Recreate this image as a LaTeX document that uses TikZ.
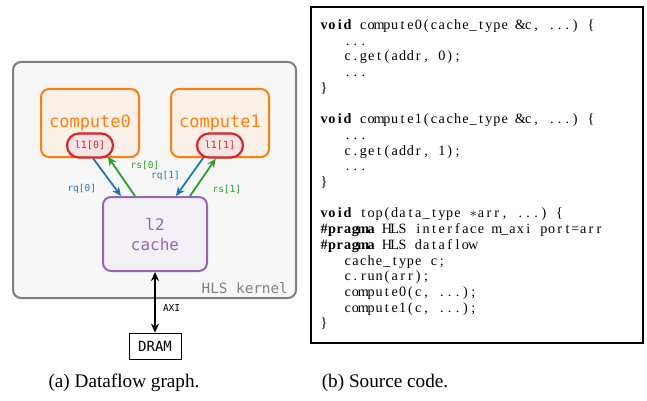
\documentclass[tikz,border=0pt]{standalone}
\usepackage{fontspec}
\usetikzlibrary{positioning,arrows.meta,shapes.misc}
\setmainfont{Liberation Serif}
\newfontfamily\diagfont{DejaVu Sans Mono}

\definecolor{kernelgray}{HTML}{808080}
\definecolor{kernelbg}{HTML}{F7F7F7}
\definecolor{computeorange}{HTML}{FF7F0E}
\definecolor{computebg}{HTML}{FBF1E8}
\definecolor{lonered}{HTML}{D62728}
\definecolor{lonebg}{HTML}{F7E4E4}
\definecolor{ltwopurple}{HTML}{9467BD}
\definecolor{ltwobg}{HTML}{F3F0F6}
\definecolor{rqblue}{HTML}{1F77B4}
\definecolor{rsgreen}{HTML}{2CA02C}

% fixed columns for the listing: one box per character, ~ for a space
\newcommand{\colw}{7.85pt}
\newcommand{\astchar}{\ensuremath{\ast}}
\def\fixloop#1{\ifx#1\relax\else\makebox[\colw]{#1}\expandafter\fixloop\fi}
\newcommand{\codeline}[2]{{\bfseries\fixloop#1\relax}\fixloop#2\relax}

\tikzset{
  kernelbox/.style={draw=kernelgray, fill=kernelbg, line width=2pt, rounded corners=8pt,
    minimum width=283pt, minimum height=236pt},
  computebox/.style={draw=computeorange, fill=computebg, line width=2pt, rounded corners=8pt,
    minimum width=98pt, minimum height=68pt, text=computeorange,
    font=\diagfont\fontsize{17}{20}\selectfont},
  lonebox/.style={rounded rectangle, draw=lonered, fill=lonebg, line width=2.2pt,
    minimum width=46pt, minimum height=24pt, inner sep=0pt, text=lonered,
    font=\diagfont\fontsize{10}{11}\selectfont},
  ltwobox/.style={draw=ltwopurple, fill=ltwobg, line width=2pt, rounded corners=8pt,
    minimum width=104pt, minimum height=74pt, text=ltwopurple, align=center,
    font=\diagfont\fontsize{16}{20}\selectfont},
  drambox/.style={draw=black, fill=white, line width=0.8pt, minimum width=52pt,
    minimum height=26pt, inner sep=0pt, font=\diagfont\fontsize{14}{16}\selectfont},
  chanlabel/.style={inner sep=0pt, font=\diagfont\fontsize{9.5}{11}\selectfont},
  rqarrow/.style={draw=rqblue, line width=1.8pt, -{Stealth[length=9pt,width=8pt]}},
  rsarrow/.style={draw=rsgreen, line width=1.8pt, -{Stealth[length=9pt,width=8pt]}},
  codeframe/.style={draw=black, line width=1.8pt, minimum width=332pt, minimum height=336pt},
  caption/.style={inner sep=0pt, font=\fontsize{19.2}{23}\selectfont}
}

\begin{document}
\begin{tikzpicture}[x=1pt, y=-1pt]
  \useasboundingbox (0,0) rectangle (647,401);

  % === DATAFLOW GRAPH ===
  \node[kernelbox] (kernel) at (154.5,180) {};
  \node[anchor=base east, inner sep=0pt, text=kernelgray, font=\diagfont\fontsize{14.3}{16}\selectfont]
    (kernellabel) at ([xshift=-9pt, yshift=6pt]kernel.south east) {HLS kernel};

  \node[computebox] (compute0) at (90,123) {compute0};
  \node[computebox] (compute1) at (220,123) {compute1};
  \node[lonebox] (lone0) at (90,145.5) {l1[0]};
  \node[lonebox] (lone1) at (220,145.5) {l1[1]};

  \node[ltwobox] (cache) at (155,234) {l2\\cache};

  % requests and responses
  \draw[rqarrow] (lone0.-76) -- ([xshift=-34pt]cache.north)
    node[chanlabel, text=rqblue, pos=0.82, left=19pt] (rqzero) {rq[0]};
  \draw[rsarrow] ([xshift=-20pt]cache.north) -- (lone0.-32)
    node[chanlabel, text=rsgreen, pos=0.78, right=16pt] (rszero) {rs[0]};
  \draw[rqarrow] (lone1.-144) -- ([xshift=21pt]cache.north)
    node[chanlabel, text=rqblue, pos=0.47, left=10pt] (rqone) {rq[1]};
  \draw[rsarrow] ([xshift=35pt]cache.north) -- (lone1.-108)
    node[chanlabel, text=rsgreen, pos=0.18, right=17pt] (rsone) {rs[1]};

  % memory
  \node[drambox] (dram) at (155,346) {DRAM};
  \draw[line width=2pt, {Stealth[length=9pt,width=8pt]}-{Stealth[length=9pt,width=8pt]}]
    (cache.south) -- (dram.north)
    node[chanlabel, pos=0.6, right=7pt] (axi) {AXI};

  % === SOURCE CODE ===
  \node[codeframe] (frame) at (477,175) {};
  \node[anchor=north west, inner sep=0pt, align=left,
    font=\fontsize{14.2}{15.7}\selectfont] (code) at (320,19.5) {%
    \codeline{void}{~compute0(cache\_type~\&c,~...)~\{}\\
    \codeline{}{~~~...}\\
    \codeline{}{~~~c.get(addr,~0);}\\
    \codeline{}{~~~...}\\
    \codeline{}{\}}\\[15.7pt]
    \codeline{void}{~compute1(cache\_type~\&c,~...)~\{}\\
    \codeline{}{~~~...}\\
    \codeline{}{~~~c.get(addr,~1);}\\
    \codeline{}{~~~...}\\
    \codeline{}{\}}\\[15.7pt]
    \codeline{void}{~top(data\_type~\astchar arr,~...)~\{}\\
    \codeline{\#pragma}{~HLS~interface~m\_axi~port=arr}\\
    \codeline{\#pragma}{~HLS~dataflow}\\
    \codeline{}{~~~cache\_type~c;}\\
    \codeline{}{~~~c.run(arr);}\\
    \codeline{}{~~~compute0(c,~...);}\\
    \codeline{}{~~~compute1(c,~...);}\\
    \codeline{}{\}}};

  % === CAPTIONS ===
  \node[caption, anchor=base] (capa) at (124,387) {(a) Dataflow graph.};
  \node[caption, anchor=base] (capb) at (385,387) {(b) Source code.};
\end{tikzpicture}
\end{document}
